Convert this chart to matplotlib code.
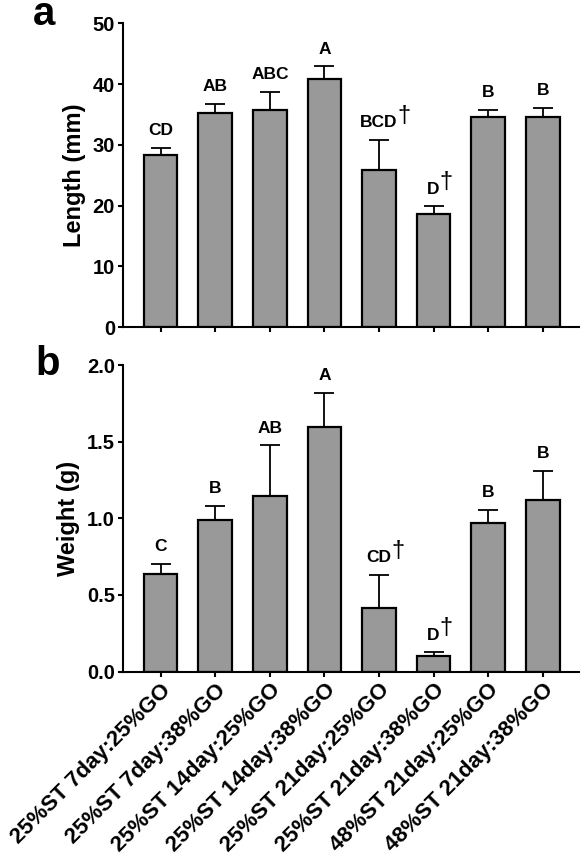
import matplotlib
matplotlib.use("Agg")
from matplotlib import pyplot as plt

plt.rcParams['font.family'] = ['Liberation Sans', 'DejaVu Sans']
plt.rcParams['font.weight'] = 'bold'

groups = ["25%ST 7day:25%GO", "25%ST 7day:38%GO", "25%ST 14day:25%GO",
          "25%ST 14day:38%GO", "25%ST 21day:25%GO", "25%ST 21day:38%GO",
          "48%ST 21day:25%GO", "48%ST 21day:38%GO"]

lengthMean = [28.3, 35.3, 35.8, 40.9, 25.9, 18.6, 34.5, 34.5]
lengthErr = [1.2, 1.5, 2.9, 2.0, 4.9, 1.3, 1.3, 1.6]
lengthLetters = ["CD", "AB", "ABC", "A", "BCD", "D", "B", "B"]
lengthDagger = [False, False, False, False, True, True, False, False]

weightMean = [0.634, 0.99, 1.147, 1.597, 0.417, 0.099, 0.967, 1.118]
weightErr = [0.07, 0.093, 0.329, 0.221, 0.215, 0.028, 0.088, 0.191]
weightLetters = ["C", "B", "AB", "A", "CD", "D", "B", "B"]
weightDagger = [False, False, False, False, True, True, False, False]

letterSize = 12.5


def drawPanel(ax, means, errs, letters, daggers, ymax, ystep, ylabel, fmt, labelX):
	x = list(range(len(means)))
	ax.bar(x, means, width=0.615, color='#999999', edgecolor='black', linewidth=1.6, zorder=2)
	ax.errorbar(x, means, yerr=[[0] * len(errs), errs], fmt='none', ecolor='black',
	            elinewidth=1.3, capsize=7, capthick=1.3, zorder=1)
	for i in x:
		top = means[i] + errs[i]
		ax.annotate(letters[i], (i, top), xytext=(0, 9), textcoords='offset points',
		            ha='center', va='baseline', fontsize=letterSize, fontweight='bold')
		if daggers[i]:
			half = 0.722 * letterSize * len(letters[i]) / 2
			ax.annotate("\u2020", (i, top), xytext=(half, 13), textcoords='offset points',
			            ha='left', va='baseline', fontsize=17, fontweight='normal')
	ax.set_xlim(-0.685, 7.67)
	ax.set_ylim(0, ymax)
	ax.set_yticks([k * ystep for k in range(int(round(ymax / ystep)) + 1)])
	ax.yaxis.set_major_formatter(plt.FormatStrFormatter(fmt))
	ax.set_xticks(x)
	ax.set_ylabel(ylabel, fontsize=17, fontweight='bold')
	ax.yaxis.set_label_coords(labelX, 0.5)
	for s in ['top', 'right']:
		ax.spines[s].set_visible(False)
	for s in ['left', 'bottom']:
		ax.spines[s].set_linewidth(1.5)
	ax.tick_params(axis='both', direction='out', length=3.5, width=1.5, labelsize=14.5, pad=2.5)


fig = plt.figure(figsize=(5.81, 8.64), dpi=100)
axA = fig.add_axes([0.2122, 0.6212, 0.785, 0.3519])
axB = fig.add_axes([0.2122, 0.2228, 0.785, 0.3547])

drawPanel(axA, lengthMean, lengthErr, lengthLetters, lengthDagger, 50, 10, "Length (mm)", '%d', -0.081)
drawPanel(axB, weightMean, weightErr, weightLetters, weightDagger, 2.0, 0.5, "Weight (g)", '%.1f', -0.094)

axA.set_xticklabels([])
axB.set_xticklabels(groups, rotation=45, ha='right', va='top', rotation_mode='anchor',
                    fontsize=16, fontweight='bold')

fig.text(33 / 581, 1 - 25 / 864, 'a', fontsize=29, fontweight='bold', ha='left', va='baseline')
fig.text(35 / 581, 1 - 375 / 864, 'b', fontsize=29, fontweight='bold', ha='left', va='baseline')

fig.savefig("out.png", dpi=100)
